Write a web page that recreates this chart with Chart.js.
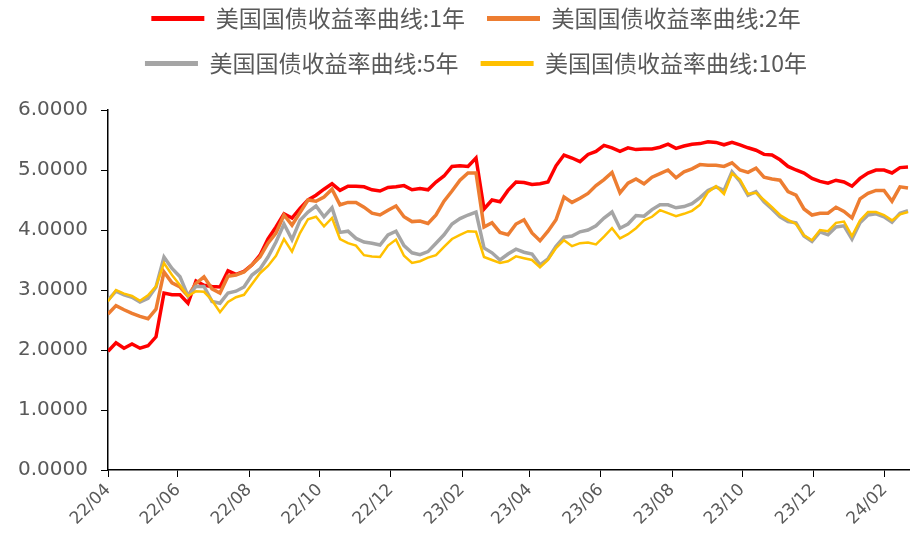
<!DOCTYPE html>
<html>
<head>
<meta charset="utf-8">
<script src="https://cdn.jsdelivr.net/npm/chart.js@4.4.1/dist/chart.umd.min.js"></script>
<style>
  html, body { margin: 0; padding: 0; background: #fff; }
</style>
</head>
<body>
<canvas id="yieldChart" width="910" height="543"></canvas>
<script>
// Reihennamen
const seriesNames = ['美国国债收益率曲线:1年', '美国国债收益率曲线:2年', '美国国债收益率曲线:5年', '美国国债收益率曲线:10年'];
const seriesColors = ['#FF0000', '#ED7D31', '#A5A5A5', '#FFC000'];

// Wochenwerte (22/04 bis 24/02)
const y1 = [1.98, 2.12, 2.03, 2.10, 2.03, 2.07, 2.22, 2.95, 2.92, 2.92, 2.78, 3.15, 3.08, 3.06, 3.05,
  3.32, 3.26, 3.31, 3.42, 3.58, 3.85, 4.05, 4.27, 4.20, 4.36, 4.50, 4.58, 4.68, 4.77,
  4.66, 4.73, 4.73, 4.72, 4.67, 4.65, 4.71, 4.72, 4.74, 4.67, 4.69, 4.67, 4.80, 4.90,
  5.06, 5.07, 5.06, 5.20, 4.35, 4.50, 4.47, 4.66, 4.80, 4.79, 4.76, 4.77, 4.80, 5.07, 5.25,
  5.20, 5.14, 5.26, 5.31, 5.41, 5.37, 5.31, 5.37, 5.34, 5.35, 5.35, 5.38, 5.43, 5.36,
  5.40, 5.43, 5.44, 5.47, 5.46, 5.42, 5.46, 5.42, 5.37, 5.33, 5.26, 5.25, 5.17, 5.06,
  5.00, 4.95, 4.86, 4.81, 4.78, 4.83, 4.80, 4.73, 4.86, 4.95, 5.00, 5.00, 4.95, 5.04, 5.05];
const y2 = [2.60, 2.74, 2.67, 2.61, 2.56, 2.52, 2.68, 3.30, 3.12, 3.05, 2.90, 3.11, 3.22, 3.02, 2.95,
  3.23, 3.25, 3.30, 3.42, 3.55, 3.78, 3.95, 4.25, 4.08, 4.29, 4.50, 4.48, 4.55, 4.68,
  4.42, 4.46, 4.46, 4.38, 4.28, 4.25, 4.33, 4.40, 4.22, 4.14, 4.15, 4.11, 4.25, 4.48,
  4.65, 4.83, 4.95, 4.95, 4.05, 4.12, 3.96, 3.92, 4.10, 4.17, 3.95, 3.82, 3.98, 4.17, 4.55,
  4.46, 4.53, 4.61, 4.74, 4.84, 4.96, 4.62, 4.78, 4.85, 4.77, 4.88, 4.94, 5.00, 4.87,
  4.97, 5.02, 5.09, 5.08, 5.08, 5.06, 5.12, 5.00, 4.96, 5.03, 4.88, 4.85, 4.83, 4.64,
  4.58, 4.35, 4.25, 4.28, 4.28, 4.38, 4.31, 4.20, 4.52, 4.61, 4.66, 4.66, 4.48, 4.72, 4.70];
const y5 = [2.83, 2.98, 2.92, 2.88, 2.80, 2.86, 3.05, 3.55, 3.36, 3.22, 2.90, 3.06, 3.06, 2.81, 2.78,
  2.95, 2.98, 3.05, 3.25, 3.35, 3.55, 3.80, 4.10, 3.84, 4.16, 4.30, 4.40, 4.22, 4.37,
  3.96, 3.98, 3.86, 3.80, 3.78, 3.75, 3.92, 3.98, 3.74, 3.62, 3.59, 3.64, 3.78, 3.92,
  4.10, 4.19, 4.25, 4.30, 3.70, 3.62, 3.50, 3.60, 3.68, 3.63, 3.60, 3.42, 3.52, 3.73, 3.88,
  3.90, 3.97, 4.00, 4.07, 4.20, 4.30, 4.03, 4.10, 4.24, 4.23, 4.34, 4.42, 4.42, 4.37,
  4.39, 4.44, 4.54, 4.66, 4.72, 4.66, 4.97, 4.81, 4.58, 4.64, 4.47, 4.35, 4.22, 4.14,
  4.12, 3.90, 3.81, 3.97, 3.92, 4.05, 4.07, 3.85, 4.12, 4.25, 4.27, 4.22, 4.13, 4.28, 4.32];
const y10 = [2.81, 3.00, 2.94, 2.90, 2.82, 2.91, 3.06, 3.45, 3.25, 3.08, 2.90, 2.98, 2.97, 2.83, 2.63,
  2.80, 2.88, 2.92, 3.10, 3.28, 3.40, 3.57, 3.85, 3.64, 3.95, 4.18, 4.22, 4.06, 4.20,
  3.85, 3.78, 3.74, 3.58, 3.56, 3.55, 3.74, 3.84, 3.57, 3.45, 3.48, 3.54, 3.58, 3.72,
  3.85, 3.92, 3.98, 3.97, 3.55, 3.50, 3.45, 3.48, 3.56, 3.53, 3.50, 3.38, 3.50, 3.70, 3.83,
  3.73, 3.78, 3.79, 3.76, 3.89, 4.03, 3.86, 3.93, 4.03, 4.16, 4.22, 4.33, 4.28, 4.23,
  4.27, 4.32, 4.42, 4.63, 4.73, 4.60, 4.94, 4.84, 4.60, 4.62, 4.50, 4.38, 4.25, 4.17,
  4.10, 3.91, 3.83, 4.00, 3.98, 4.12, 4.14, 3.90, 4.16, 4.30, 4.30, 4.25, 4.16, 4.26, 4.30];

// Achsenbeschriftung (Position in Wochen)
const tickPos = [0, 8.74, 17.64, 26.46, 35.35, 44.25, 52.7, 61.6, 70.5, 79.25, 88.15, 97.1];
const tickLabels = ['22/04', '22/06', '22/08', '22/10', '22/12', '23/02', '23/04', '23/06', '23/08', '23/10', '23/12', '24/02'];

function toPoints(values) {
  return values.map((v, i) => ({ x: i, y: v }));
}

// Legende höher machen (Plotbereich beginnt bei y=110) und etwas nach rechts schieben
const legendSpace = {
  id: 'legendSpace',
  beforeInit(chart) {
    const fit = chart.legend.fit;
    chart.legend.fit = function() {
      fit.call(this);
      this.height = 125;
    };
  },
  afterLayout(chart) {
    chart.legend.left += 21;
    chart.legend.right += 21;
  }
};

const allSeries = [y1, y2, y5, y10];
const widths = [3.5, 3.5, 3.5, 2.5];

new Chart(document.getElementById('yieldChart'), {
  type: 'line',
  data: {
    datasets: allSeries.map((s, i) => ({
      label: seriesNames[i],
      data: toPoints(s),
      borderColor: seriesColors[i],
      backgroundColor: seriesColors[i],
      borderWidth: widths[i],
      pointRadius: 0,
      tension: 0,
      order: 4 - i
    }))
  },
  options: {
    responsive: false,
    animation: false,
    layout: { padding: { top: -15, left: 0, right: 0, bottom: 0 } },
    scales: {
      x: {
        type: 'linear',
        min: 0,
        max: 100.25,
        afterBuildTicks: axis => { axis.ticks = tickPos.map(v => ({ value: v })); },
        afterFit: axis => { axis.height = 73; },
        grid: { drawOnChartArea: false, tickLength: 7, tickColor: '#000' },
        border: { color: '#000', width: 1.5 },
        ticks: {
          autoSkip: false,
          maxRotation: 45,
          minRotation: 45,
          padding: 3,
          color: '#595959',
          font: { family: 'DejaVu Sans', size: 17 },
          callback: (value, index) => tickLabels[index]
        }
      },
      y: {
        min: 0,
        max: 6,
        afterFit: axis => { axis.width = 108; },
        grid: { drawOnChartArea: false, tickLength: 7, tickColor: '#000' },
        border: { color: '#000', width: 1.5 },
        ticks: {
          stepSize: 1,
          padding: 13,
          color: '#595959',
          font: { family: 'DejaVu Sans', size: 20 },
          callback: v => v.toFixed(4)
        }
      }
    },
    plugins: {
      legend: {
        position: 'top',
        labels: {
          boxWidth: 53,
          boxHeight: 5,
          padding: 22,
          color: '#595959',
          font: { family: 'Noto Sans CJK SC', size: 23 },
          sort: (a, b) => a.datasetIndex - b.datasetIndex,
          generateLabels: chart => {
            const items = Chart.defaults.plugins.legend.labels.generateLabels(chart);
            items.forEach(it => { it.lineWidth = 0; });
            return items;
          }
        }
      },
      tooltip: { enabled: false }
    }
  },
  plugins: [legendSpace]
});
</script>
</body>
</html>
